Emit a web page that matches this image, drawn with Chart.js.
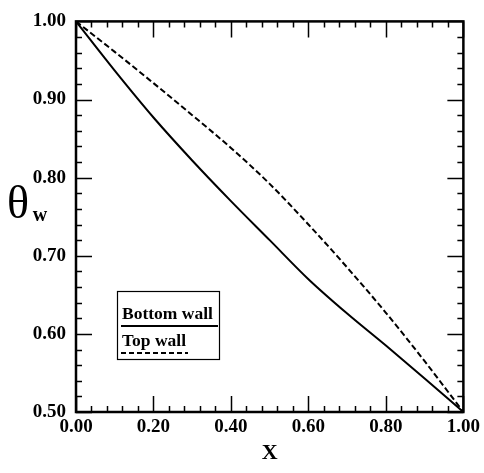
<!DOCTYPE html>
<html lang="en">
<head>
  <meta charset="UTF-8" />
  <title>theta_w vs X</title>
  <script src="https://cdn.jsdelivr.net/npm/chart.js"></script>
  <style>
    body {
      margin: 0;
      background: #fff;
    }
    #wrap {
      width: 484px;
      height: 473px;
    }
  </style>
</head>
<body>
  <div id="wrap"><canvas id="wallChart"></canvas></div>

  <script>
    const xValues = [0, 0.1, 0.2, 0.3, 0.4, 0.5, 0.6, 0.7, 0.8, 0.9, 1.0];
    const bottomWall = [1.000, 0.937, 0.877, 0.822, 0.770, 0.720, 0.670, 0.626, 0.585, 0.543, 0.500];
    const topWall = [1.000, 0.961, 0.921, 0.880, 0.838, 0.792, 0.740, 0.685, 0.627, 0.565, 0.500];
    const seriesNames = ['Bottom wall', 'Top wall'];
    const xTickStep = 0.2, xMinorStep = 0.04;
    const yTickStep = 0.1, yMinorStep = 0.02;

    const serif = "'Liberation Serif', 'DejaVu Serif', serif";

    function pts(ys) {
      return xValues.map((x, i) => ({ x: x, y: ys[i] }));
    }

    // frame, inward ticks, legend box, axis titles
    const decor = {
      id: 'decor',
      afterDraw(chart) {
        const ctx = chart.ctx;
        const a = chart.chartArea;
        const xs = chart.scales.x, ys = chart.scales.y;
        ctx.save();
        ctx.strokeStyle = '#000';
        ctx.lineWidth = 1.5;
        ctx.beginPath();
        for (let v = xs.min; v <= xs.max + 1e-9; v += xMinorStep) {
          const px = Math.round(xs.getPixelForValue(v)) + 0.5;
          const major = Math.abs(v / xTickStep - Math.round(v / xTickStep)) < 1e-6;
          const len = major ? 16 : 6;
          ctx.moveTo(px, a.bottom); ctx.lineTo(px, a.bottom - len);
          ctx.moveTo(px, a.top); ctx.lineTo(px, a.top + len);
        }
        for (let v = ys.min; v <= ys.max + 1e-9; v += yMinorStep) {
          const py = Math.round(ys.getPixelForValue(v)) + 0.5;
          const k = (v - ys.min) / yTickStep;
          const major = Math.abs(k - Math.round(k)) < 1e-6;
          const len = major ? 16 : 6;
          ctx.moveTo(a.left, py); ctx.lineTo(a.left + len, py);
          ctx.moveTo(a.right, py); ctx.lineTo(a.right - len, py);
        }
        ctx.stroke();

        ctx.lineWidth = 2.5;
        ctx.strokeRect(a.left, a.top, a.right - a.left, a.bottom - a.top);

        // legend
        ctx.lineWidth = 1.2;
        ctx.strokeRect(117.5, 291.5, 102, 68);
        ctx.fillStyle = '#000';
        ctx.font = 'bold 17.5px ' + serif;
        ctx.textAlign = 'left';
        ctx.textBaseline = 'alphabetic';
        ctx.fillText(seriesNames[0], 122, 319);
        ctx.fillText(seriesNames[1], 122, 346);
        ctx.lineWidth = 2;
        ctx.beginPath();
        ctx.moveTo(121, 326); ctx.lineTo(218, 326);
        ctx.stroke();
        ctx.setLineDash([5, 3]);
        ctx.beginPath();
        ctx.moveTo(121, 353); ctx.lineTo(188, 353);
        ctx.stroke();
        ctx.setLineDash([]);

        // axis titles
        ctx.textAlign = 'center';
        ctx.textBaseline = 'middle';
        ctx.font = 'bold 22px ' + serif;
        ctx.fillText('X', (a.left + a.right) / 2, 453);
        ctx.font = '46px ' + serif;
        ctx.fillText('\u03B8', 18, 206);
        ctx.font = 'bold 20px ' + serif;
        ctx.fillText('w', 40, 216);
        ctx.restore();
      }
    };

    const ctx = document.getElementById('wallChart').getContext('2d');
    new Chart(ctx, {
      type: 'line',
      data: {
        datasets: [{
          label: seriesNames[0],
          data: pts(bottomWall),
          borderColor: '#000',
          borderWidth: 2,
          pointRadius: 0,
          cubicInterpolationMode: 'monotone'
        }, {
          label: seriesNames[1],
          data: pts(topWall),
          borderColor: '#000',
          borderWidth: 2,
          borderDash: [6, 3],
          pointRadius: 0,
          cubicInterpolationMode: 'monotone'
        }]
      },
      options: {
        responsive: true,
        maintainAspectRatio: false,
        animation: false,
        layout: { padding: { top: 18, right: 19, left: 0, bottom: 0 } },
        plugins: { legend: { display: false }, tooltip: { enabled: false } },
        scales: {
          x: {
            type: 'linear',
            min: 0, max: 1,
            grid: { display: false, drawTicks: false },
            border: { display: false },
            ticks: {
              stepSize: xTickStep,
              maxRotation: 0,
              padding: 4,
              color: '#000',
              font: { family: serif, size: 19, weight: 'bold' },
              callback: v => v.toFixed(2)
            },
            afterFit(scale) { scale.height = 61; }
          },
          y: {
            type: 'linear',
            min: 0.5, max: 1,
            grid: { display: false, drawTicks: false },
            border: { display: false },
            ticks: {
              stepSize: yTickStep,
              padding: 10,
              color: '#000',
              font: { family: serif, size: 19, weight: 'bold' },
              callback: v => v.toFixed(2)
            },
            afterFit(scale) { scale.width = 76; }
          }
        }
      },
      plugins: [decor]
    });
  </script>
</body>
</html>
